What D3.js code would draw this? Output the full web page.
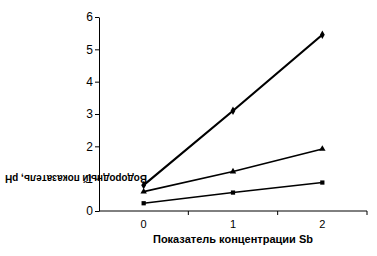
<!DOCTYPE html>
<html>
<head>
<meta charset="utf-8">
<script src="https://cdn.jsdelivr.net/npm/d3@7"></script>
<style>
  body { margin: 0; background: #fff; }
  svg { display: block; font-family: Arial, "Liberation Sans", sans-serif; }
  .axis path, .axis line { stroke: #000; }
  .axis text { font-size: 11px; fill: #000; }
</style>
</head>
<body>
<div id="chart"></div>
<script>
var categories = ['0', '1', '2'];
var seriesTop = [0.8, 3.1, 5.45];   // diamonds
var seriesMid = [0.6, 1.22, 1.92];  // triangles
var seriesLow = [0.24, 0.57, 0.88]; // squares
var yTicks = [0, 1, 2, 3, 4, 5, 6];
var xTitle = 'Показатель концентрации Sb';
var yTitle = 'Водородный показатель, pH';

var W = 377, H = 256;
var margins = {left: 99, right: 10, top: 17, bottom: 45};

var svg = d3.select('#chart').append('svg')
  .attr('width', W).attr('height', H);

var x = d3.scaleBand().domain(categories)
  .range([margins.left, W - margins.right]);
var y = d3.scaleLinear().domain([0, 6])
  .range([H - margins.bottom, margins.top]);

var cx = function(i) { return x(categories[i]) + x.bandwidth() / 2; };

// x axis, ticks on band edges
var gx = svg.append('g').attr('class', 'axis')
  .attr('transform', 'translate(0,' + y(0) + ')');
gx.append('line').attr('x1', margins.left).attr('x2', W - margins.right);
gx.selectAll('.tk').data(categories).enter().append('line')
  .attr('x1', function(d) { return x(d) + x.bandwidth(); })
  .attr('x2', function(d) { return x(d) + x.bandwidth(); })
  .attr('y1', 0).attr('y2', 4);
gx.selectAll('text').data(categories).enter().append('text')
  .attr('x', function(d, i) { return cx(i); })
  .attr('y', 17).attr('text-anchor', 'middle').text(function(d) { return d; });

var gy = svg.append('g').attr('class', 'axis')
  .attr('transform', 'translate(' + margins.left + ',0)')
  .call(d3.axisLeft(y).tickValues(yTicks).tickFormat(d3.format('d'))
    .tickSize(4).tickSizeOuter(0).tickPadding(2));
gy.selectAll('text').style('font-size', '12px');

// lines
var line = d3.line()
  .x(function(d, i) { return cx(i); })
  .y(function(d) { return y(d); });

function addSeries(data, width, shape, size) {
  svg.append('path').datum(data)
    .attr('d', line).attr('fill', 'none')
    .attr('stroke', '#000').attr('stroke-width', width);
  svg.selectAll(null).data(data).enter().append('path')
    .attr('d', d3.symbol().type(shape).size(size))
    .attr('transform', function(d, i) { return 'translate(' + cx(i) + ',' + y(d) + ')'; })
    .attr('fill', '#000');
}
addSeries(seriesLow, 1.6, d3.symbolSquare, 18);
addSeries(seriesMid, 1.6, d3.symbolTriangle, 18);
addSeries(seriesTop, 2.2, d3.symbolDiamond, 20);

// titles
svg.append('text')
  .attr('x', x('1') + x.bandwidth() / 2).attr('y', 243)
  .attr('text-anchor', 'middle')
  .style('font-size', '11px').style('font-weight', 'bold')
  .text(xTitle);

// y title is drawn upside down, as in the original
svg.append('text')
  .attr('transform', 'translate(76,179) rotate(180)')
  .attr('text-anchor', 'middle').attr('dy', '0.35em')
  .attr('textLength', 142).attr('lengthAdjust', 'spacingAndGlyphs')
  .style('font-size', '11px').style('font-weight', 'bold')
  .text(yTitle);
</script>
</body>
</html>
